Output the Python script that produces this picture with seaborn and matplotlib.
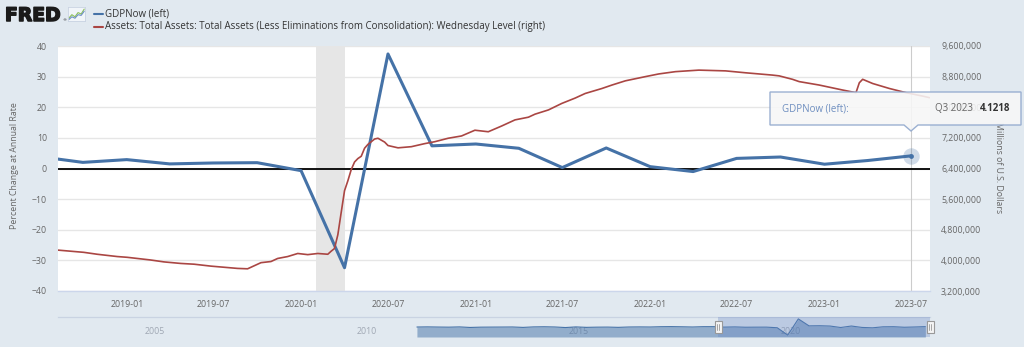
import numpy as np
import pandas as pd
import matplotlib
matplotlib.use("Agg")
import matplotlib.pyplot as plt
import matplotlib.dates as mdates
import matplotlib.ticker as mticker
import matplotlib.transforms as mtransforms
import matplotlib.patheffects as pe
from matplotlib.patches import Polygon, Rectangle
from matplotlib.lines import Line2D
import seaborn as sns

# ---------------- data ----------------
gdp_dates = ["2018-07-01", "2018-10-01", "2019-01-01", "2019-04-01", "2019-07-01",
             "2019-10-01", "2020-01-01", "2020-04-01", "2020-07-01", "2020-10-01",
             "2021-01-01", "2021-04-01", "2021-07-01", "2021-10-01", "2022-01-01",
             "2022-04-01", "2022-07-01", "2022-10-01", "2023-01-01", "2023-04-01",
             "2023-07-01"]
gdp_values = [3.9, 2.0, 2.9, 1.5, 1.8, 1.9, -0.7, -32.4, 37.4, 7.4,
              8.0, 6.6, 0.3, 6.7, 0.6, -1.0, 3.3, 3.75, 1.4, 2.6,
              4.1218]

# earlier GDPNow history, only shown in the navigator (2011Q3 - 2018Q2)
nav_early_dates = pd.date_range("2011-07-01", "2018-04-01", freq="QS").strftime("%Y-%m-%d").tolist()
nav_early_values = [2.4, 3.0, 2.3, 1.8, 2.9, 0.6, 1.8, 2.1, 2.3, 2.6,
                    0.8, 2.9, 3.5, 2.6, 0.2, 2.9, 1.0, 1.8, 2.1, 1.0,
                    2.5, 2.9, 2.5, 3.7, 4.1, 3.4, 2.5, 3.8]

asset_dates = ["2018-08-08", "2018-09-05", "2018-10-03", "2018-10-31", "2018-11-14",
               "2018-12-12", "2019-01-02", "2019-01-30", "2019-02-20", "2019-03-20",
               "2019-04-24", "2019-05-22", "2019-06-26", "2019-07-24", "2019-08-21",
               "2019-09-11", "2019-09-25", "2019-10-09", "2019-10-30", "2019-11-13",
               "2019-12-04", "2019-12-25", "2020-01-15", "2020-02-05", "2020-02-26",
               "2020-03-04", "2020-03-11", "2020-03-18", "2020-03-25", "2020-04-01",
               "2020-04-08", "2020-04-15", "2020-04-22", "2020-04-29", "2020-05-06",
               "2020-05-13", "2020-05-20", "2020-05-27", "2020-06-03", "2020-06-10",
               "2020-06-17", "2020-06-24", "2020-07-01", "2020-07-22", "2020-08-19",
               "2020-09-16", "2020-10-07", "2020-11-04", "2020-12-02", "2020-12-30",
               "2021-01-27", "2021-02-24", "2021-03-24", "2021-04-21", "2021-05-05",
               "2021-06-02", "2021-06-30", "2021-07-28", "2021-08-18", "2021-09-22",
               "2021-10-13", "2021-11-10", "2021-12-22", "2022-01-19", "2022-02-23",
               "2022-04-13", "2022-06-08", "2022-07-20", "2022-09-14", "2022-09-28",
               "2022-10-26", "2022-11-09", "2022-12-21", "2023-02-08", "2023-03-08",
               "2023-03-15", "2023-03-22", "2023-04-12", "2023-05-17", "2023-06-21",
               "2023-07-26", "2023-08-09"]
asset_values = [4270000, 4240000, 4210000, 4160000, 4140000,
                4100000, 4080000, 4040000, 4010000, 3960000,
                3920000, 3900000, 3850000, 3820000, 3790000,
                3780000, 3860000, 3940000, 3970000, 4050000,
                4100000, 4180000, 4150000, 4180000, 4160000,
                4240000, 4310000, 4670000, 5250000, 5820000,
                6080000, 6370000, 6570000, 6660000, 6720000,
                6930000, 7030000, 7100000, 7170000, 7190000,
                7140000, 7090000, 7000000, 6940000, 6970000,
                7050000, 7100000, 7190000, 7250000, 7400000,
                7360000, 7510000, 7670000, 7740000, 7820000,
                7930000, 8100000, 8240000, 8360000, 8490000,
                8580000, 8690000, 8800000, 8870000, 8930000,
                8970000, 8950000, 8900000, 8840000, 8820000,
                8730000, 8670000, 8580000, 8450000, 8380000,
                8640000, 8730000, 8620000, 8490000, 8380000,
                8290000, 8250000]

recession_start, recession_end = "2020-02-01", "2020-04-01"
x_start, x_end = "2018-08-10", "2023-08-10"
nav_start, nav_end = "2003-01-10", "2023-08-10"
nav_tick_years = [2005, 2010, 2015, 2020]

series_gdp_label = "GDPNow (left)"
series_assets_label = ("Assets: Total Assets: Total Assets (Less Eliminations from "
                       "Consolidation): Wednesday Level (right)")
left_title = "Percent Change at Annual Rate"
right_title = "Millions of U.S. Dollars"
tooltip_name = "GDPNow (left):"
tooltip_period = "Q3 2023"

# ---------------- style ----------------
BG = "#e1e9f0"
BLUE = "#4572a7"
RED = "#aa4643"
TXT = "#666666"
AXLINE = "#ccd6eb"

sns.set_theme(style="white")
plt.rcParams["font.family"] = ["Open Sans", "DejaVu Sans"]

W, H = 1024, 347
fig = plt.figure(figsize=(W / 100, H / 100), dpi=100, facecolor=BG)


def fx(px):
    return px / W


def fy(py):
    return 1 - py / H


gd = pd.to_datetime(gdp_dates)
ad = pd.to_datetime(asset_dates)

ax = fig.add_axes([fx(58), fy(291), (930 - 58) / W, (291 - 46) / H])
ax.set_facecolor("white")
ax.set_axisbelow(True)
ax.yaxis.grid(True, color="#e6e6e6", lw=1, zorder=0)
ax.xaxis.grid(False)
ax.axvspan(pd.Timestamp(recession_start), pd.Timestamp(recession_end),
           color="#e6e6e6", lw=0, zorder=1)
ax.axvline(gd[-1], color="#cccccc", lw=0.8, zorder=1.5)

sns.lineplot(x=gd, y=gdp_values, ax=ax, color=BLUE, linewidth=2.2, zorder=3)
ax.axhline(0, color="black", lw=1.3, zorder=2.5)

ax.set_xlim(pd.Timestamp(x_start), pd.Timestamp(x_end))
ax.set_ylim(-40, 40)
ax.yaxis.set_major_locator(mticker.MultipleLocator(10))
ax.xaxis.set_major_locator(mdates.MonthLocator(bymonth=[1, 7]))
ax.xaxis.set_major_formatter(mdates.DateFormatter("%Y-%m"))
ax.set_xlabel("")
ax.set_ylabel("")
for s in ["top", "left", "right"]:
    ax.spines[s].set_visible(False)
ax.spines["bottom"].set_color(AXLINE)
ax.spines["bottom"].set_linewidth(1)
ax.tick_params(axis="y", length=0, labelsize=6.3, labelcolor=TXT, pad=8)
ax.tick_params(axis="x", length=4.3, width=0.8, color=AXLINE, labelsize=6.3,
               labelcolor=TXT, pad=2.5, direction="out")

ax2 = ax.twinx()
sns.lineplot(x=ad, y=asset_values, ax=ax2, color=RED, linewidth=1.2, zorder=3)
ax2.set_ylim(3200000, 9600000)
ax2.yaxis.set_major_locator(mticker.MultipleLocator(800000))
ax2.yaxis.set_major_formatter(mticker.FuncFormatter(lambda v, p: f"{int(round(v)):,}"))
ax2.set_ylabel("")
for s in ax2.spines.values():
    s.set_visible(False)
ax2.tick_params(axis="y", length=0, labelsize=6.3, labelcolor=TXT, pad=8)
ax2.set_xlim(pd.Timestamp(x_start), pd.Timestamp(x_end))

# hover marker on last GDPNow point
ax.scatter([gd[-1]], [gdp_values[-1]], s=140, color=BLUE, alpha=0.25, lw=0, zorder=6,
           clip_on=False)
ax.scatter([gd[-1]], [gdp_values[-1]], s=12, color=BLUE, lw=0, zorder=7, clip_on=False)

# axis titles
fig.text(fx(15), fy(166), left_title, rotation=90, ha="center", va="center",
         fontsize=6.3, color=TXT)
fig.text(fx(999), fy(168), right_title, rotation=270, ha="center", va="center",
         fontsize=6.3, color=TXT)

# ---------------- navigator ----------------
nav = fig.add_axes([fx(58), fy(337), (930 - 58) / W, 20 / H])
nav.set_facecolor("none")
nd = pd.to_datetime(nav_early_dates + gdp_dates)
nv = nav_early_values + gdp_values
nav.fill_between(nd, nv, -40.6, color=BLUE, alpha=0.5, lw=0, zorder=2)
nav.plot(nd, nv, color=BLUE, lw=0.8, zorder=3)
nav.axvspan(pd.Timestamp(x_start), pd.Timestamp(x_end), color=(102 / 255, 133 / 255, 194 / 255),
            alpha=0.3, lw=0, zorder=4)
nav.set_xlim(pd.Timestamp(nav_start), pd.Timestamp(nav_end))
nav.set_ylim(-40.6, 45.6)
nav.set_xticks([])
nav.set_yticks([])
for s in ["left", "right", "bottom"]:
    nav.spines[s].set_visible(False)
nav.spines["top"].set_color("#c9d3e2")
nav.spines["top"].set_linewidth(0.9)
offs = mtransforms.offset_copy(nav.transData, fig=fig, x=3 * 0.72, y=0, units="points")
blend = mtransforms.blended_transform_factory(offs, nav.transAxes)
for yr in nav_tick_years:
    nav.text(pd.Timestamp(f"{yr}-01-01"), 0.3, str(yr), transform=blend, ha="left",
             va="center", fontsize=6.3, color="#a0a8b4", zorder=1)

for hx in (718, 930):
    fig.add_artist(Rectangle((fx(hx - 3.5), fy(333)), 7 / W, 12 / H, transform=fig.transFigure,
                             facecolor="#f4f4f4", edgecolor="#999999", lw=0.8, zorder=8))
    for dx in (-1, 1):
        fig.add_artist(Line2D([fx(hx + dx), fx(hx + dx)], [fy(330), fy(324)],
                              transform=fig.transFigure, color="#999999", lw=0.6, zorder=9))

# ---------------- logo & legend ----------------
fig.text(fx(5), fy(21), "FRED", fontsize=13.5, fontweight="bold", color="#1a1a1a",
         family="DejaVu Sans", ha="left", va="baseline",
         path_effects=[pe.withStroke(linewidth=1.1, foreground="#1a1a1a")])
fig.text(fx(62.5), fy(21), "\u00ae", fontsize=3, color="#1a1a1a", family="DejaVu Sans",
         ha="left", va="baseline")
icon = fig.add_axes([fx(68), fy(21), 17 / W, 14 / H])
icon.set_facecolor("#f1f5f9")
icon.plot([0, 0.2, 0.4, 0.6, 0.8, 1.0], [0.2, 0.45, 0.3, 0.6, 0.5, 0.85], color="#8bbf5a", lw=0.8)
icon.plot([0, 0.2, 0.4, 0.6, 0.8, 1.0], [0.1, 0.3, 0.2, 0.45, 0.4, 0.7], color="#6c8fc4", lw=0.8)
icon.set_xlim(-0.05, 1.05)
icon.set_ylim(0, 1)
icon.set_xticks([])
icon.set_yticks([])
for s in icon.spines.values():
    s.set_color("#c9d3e2")
    s.set_linewidth(0.6)

fig.add_artist(Line2D([fx(94), fx(103)], [fy(14), fy(14)], transform=fig.transFigure,
                      color=BLUE, lw=1.5))
fig.add_artist(Line2D([fx(94), fx(103)], [fy(26.5), fy(26.5)], transform=fig.transFigure,
                      color=RED, lw=1.5))
fig.text(fx(105), fy(14), series_gdp_label, fontsize=7, color="#333333", ha="left", va="center")
fig.text(fx(105), fy(26.5), series_assets_label, fontsize=7, color="#333333", ha="left",
         va="center")

# ---------------- tooltip ----------------
tip = [(770, 92), (1021, 92), (1021, 125), (918, 125), (911, 131), (904, 125), (770, 125)]
fig.add_artist(Polygon([(fx(a), fy(b)) for a, b in tip], closed=True, transform=fig.transFigure,
                       facecolor="#f7f7f7", alpha=0.88, edgecolor="#8ea6cc", lw=1, zorder=10))
fig.text(fx(782), fy(108.5), tooltip_name, fontsize=7, color="#6f8fc0", ha="left",
         va="center", zorder=11)
fig.text(fx(973), fy(108.5), tooltip_period, fontsize=7, color=TXT, ha="right", va="center",
         zorder=11)
fig.text(fx(1010), fy(108.5), f"{gdp_values[-1]:.4f}", fontsize=7, color="#333333",
         fontweight="bold", ha="right", va="center", zorder=11)

fig.savefig("out.png", dpi=100, facecolor=BG)
